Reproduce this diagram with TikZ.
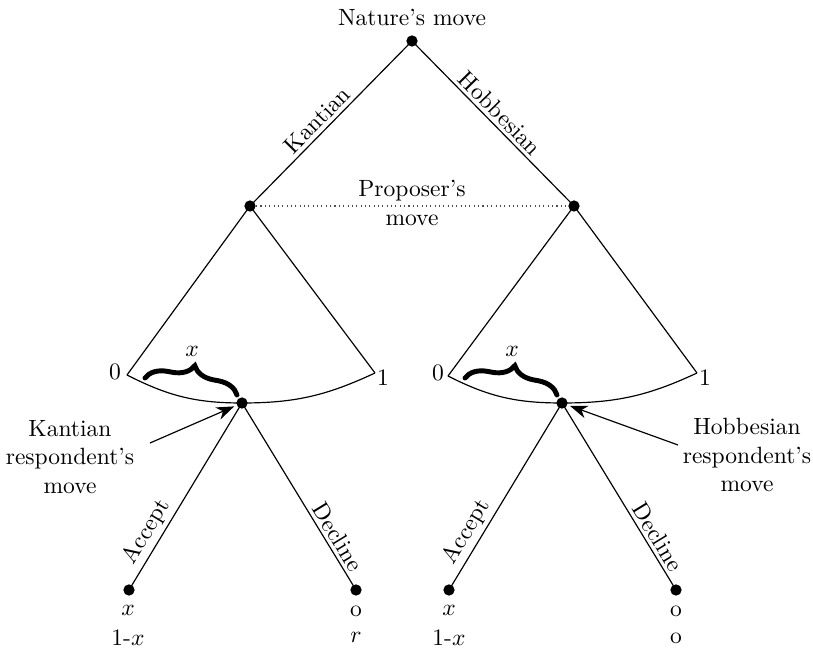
\documentclass[tikz,border=0pt]{standalone}
\usetikzlibrary{arrows.meta,decorations.pathreplacing}
\begin{document}
\begin{tikzpicture}[x=0.425pt,y=-0.425pt,
  dot/.style={circle,fill,inner sep=0pt,minimum size=4.8pt},
  branch/.style={line width=0.5pt},
  elabel/.style={sloped,above,inner sep=1.5pt},
  infoset/.style={line width=0.45pt,black!70,dash pattern=on 0.45pt off 1.4pt},
  pointer/.style={line width=0.5pt,-{Stealth[length=7.5pt,width=5.5pt,inset=2.3pt]},shorten >=1pt},
  bracestyle/.style={decorate,decoration={brace,amplitude=9pt},line width=2.1pt,line cap=round}]
\useasboundingbox (0,0) rectangle (813,648);

% nodes
\node[dot] (root) at (412,41) {};
\node (nature) at (412,17) {Nature's move};
\node[dot] (pk) at (250,206) {};
\node[dot] (ph) at (574,206) {};
\node[align=center] (prop) at (412,203) {Proposer's\\move};

\coordinate (kl) at (127,375);
\coordinate (kr) at (375,373);
\node[dot] (rk) at (242,403) {};
\coordinate (hl) at (448,376);
\coordinate (hr) at (697,373);
\node[dot] (rh) at (562,403) {};

\node[dot] (ka) at (129,590) {};
\node[dot] (kd) at (356,590) {};
\node[dot] (ha) at (449,590) {};
\node[dot] (hd) at (676,590) {};

% top branches
\draw[branch] (root.center) -- node[elabel,pos=0.53] {Kantian} (pk.center);
\draw[branch] (root.center) -- node[elabel,pos=0.49] {Hobbesian} (ph.center);
\draw[infoset] (pk) -- (ph);

% wedges
\draw[branch] (kl) -- (pk.center) -- (kr);
\draw[branch] (kl) to[out=-27,in=180] (rk.center) to[out=0,in=205] (kr);
\draw[branch] (hl) -- (ph.center) -- (hr);
\draw[branch] (hl) to[out=-27,in=180] (rh.center) to[out=0,in=205] (hr);

\node (k0) at (115,372) {0};
\node (k1) at (383,378) {1};
\node (h0) at (438,373) {0};
\node (h1) at (705,378) {1};

% braces
\draw[bracestyle] (145,378) -- (237,395);
\draw[bracestyle] (465,378) -- (557,395);
\node (kbx) at (192,351) {$x$};
\node (hbx) at (512,351) {$x$};

% respondent branches
\draw[branch] (rk.center) -- node[elabel,pos=0.73] {Accept} (ka.center);
\draw[branch] (rk.center) -- node[elabel,pos=0.75] {Decline} (kd.center);
\draw[branch] (rh.center) -- node[elabel,pos=0.73] {Accept} (ha.center);
\draw[branch] (rh.center) -- node[elabel,pos=0.75] {Decline} (hd.center);

% payoffs
\node (kax) at (128,610) {$x$};
\node (kay) at (128,638) {1-$x$};
\node (kdx) at (356,611) {o};
\node (kdy) at (356,637) {$r$};
\node (hax) at (449,610) {$x$};
\node (hay) at (449,638) {1-$x$};
\node (hdx) at (676,611) {o};
\node (hdy) at (676,638) {o};

% annotations
\node[align=center] (kann) at (70,457) {Kantian\\respondent's\\move};
\coordinate (kas) at (150,443);
\draw[pointer] (kas) -- (rk);
\node[align=center] (hann) at (747,455) {Hobbesian\\respondent's\\move};
\coordinate (has) at (678,445);
\draw[pointer] (has) -- (rh);
\end{tikzpicture}
\end{document}
